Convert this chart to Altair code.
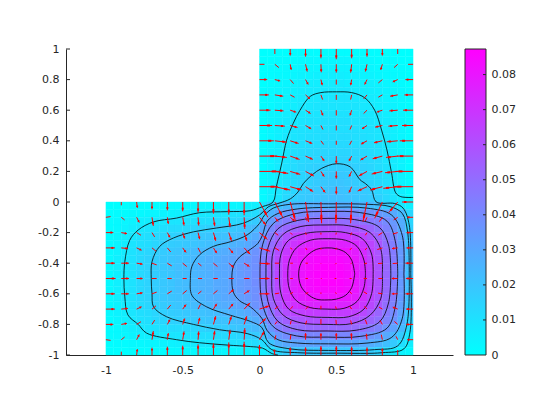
import altair as alt
import pandas as pd

# ---------- field values, in units of 1e-3, cell size 0.05 ----------
TOP_HALF_ROWS = [  # y = .975 ... .025, x = .025 ... .475 (the top block is mirrored about x = 0.5)
 [0,0,0,0,1,1,1,1,1,1],[0,0,1,1,1,2,2,2,3,3],[0,1,1,2,2,3,3,3,4,4],[0,1,2,2,3,4,4,5,5,6],
 [0,1,2,3,4,5,5,6,6,7],[1,2,3,4,5,6,7,7,8,8],[1,2,3,4,6,7,8,8,9,9],[1,2,4,5,6,8,8,9,9,9],
 [1,3,4,6,8,8,9,9,10,10],[1,3,5,7,8,9,10,10,11,11],[1,3,5,7,9,10,10,11,11,11],[1,3,5,8,9,10,11,11,12,12],
 [1,3,6,8,10,11,12,12,13,13],[1,4,6,9,11,12,13,14,14,14],[1,4,7,9,12,13,14,14,15,15],[1,4,7,10,12,14,15,16,17,17],
 [1,4,8,10,13,14,16,17,18,19],[2,4,8,11,13,15,16,18,19,20],[2,5,9,12,14,17,18,19,20,21],[2,6,9,13,16,18,19,20,21,22],
]
LEFT_UPPER_ROWS = [  # y = -.025 ... -.475, x = -.975 ... -.025 (mirrored about y = -0.5)
 [0,0,0,1,1,1,1,1,2,2,2,2,3,3,3,3,3,3,4,5],
 [0,1,1,2,2,3,3,4,4,5,6,7,8,8,9,9,10,10,11,12],
 [1,2,3,4,5,6,8,8,9,9,10,10,11,11,12,13,13,14,16,18],
 [1,2,4,6,8,9,10,11,12,12,13,14,15,16,17,18,19,20,22,24],
 [1,3,5,8,10,11,13,14,15,16,17,18,19,20,21,21,22,23,25,28],
 [2,4,6,9,11,12,14,16,17,18,19,20,21,22,23,25,26,27,29,32],
 [2,4,7,10,12,14,16,18,19,20,21,23,24,25,27,28,29,31,33,37],
 [2,5,8,10,13,15,17,19,20,21,22,24,25,27,28,30,31,33,35,38],
 [2,5,8,10,13,15,17,19,20,22,23,25,26,27,29,30,32,34,36,38],
 [2,5,8,10,13,15,17,19,20,22,23,25,26,27,29,30,32,34,36,39],
]
RIGHT_ROWS = [  # y = -.025 ... -.975, x = .025 ... .975
 [10,17,21,24,26,27,28,28,28,28,28,28,27,26,24,22,18,14,8,5],
 [18,26,31,35,38,40,41,42,42,42,42,41,40,38,37,35,33,29,24,14],
 [25,34,41,45,47,49,50,51,51,51,51,50,49,48,46,44,40,35,28,14],
 [31,41,48,52,55,57,59,60,60,60,60,59,58,56,53,48,43,37,29,16],
 [35,45,53,60,65,68,70,70,70,70,70,69,67,64,59,54,47,41,32,20],
 [39,50,58,65,70,73,76,77,77,77,77,76,74,70,64,58,50,44,34,21],
 [42,53,61,68,75,79,81,82,82,82,82,81,78,73,65,59,52,45,35,22],
 [44,55,63,71,77,80,83,85,85,85,85,83,80,74,66,60,52,45,35,22],
 [45,55,63,71,77,81,84,86,87,87,86,84,80,74,66,60,52,45,35,22],
 [45,55,63,71,77,81,84,86,87,87,86,84,80,74,66,60,52,45,35,22],
 [45,55,63,71,77,81,84,86,87,87,86,84,80,74,66,60,52,45,35,22],
 [44,55,63,71,77,80,83,85,85,85,85,83,80,74,66,60,52,45,35,22],
 [44,54,62,70,75,78,80,81,81,81,81,80,78,72,65,59,51,45,35,22],
 [41,53,60,67,71,73,75,75,75,75,75,75,73,69,63,57,50,43,33,21],
 [37,47,56,61,64,66,67,67,67,67,67,67,66,63,58,53,46,40,31,19],
 [33,43,51,55,58,59,60,60,60,60,60,60,59,57,53,49,43,37,28,16],
 [25,36,44,48,50,51,52,52,52,52,52,52,51,49,46,43,37,32,24,13],
 [20,29,36,39,41,42,42,42,42,42,42,42,41,40,37,34,30,25,18,8],
 [12,20,27,30,31,32,32,32,32,32,32,32,31,30,28,26,22,18,11,6],
 [6,9,14,17,19,20,20,20,20,20,20,20,20,19,17,15,11,8,4,2],
]

# ---------- contours, (x, y) ----------
L1 = [(.62,-.47),(.60,-.38),(.56,-.33),(.50,-.305),(.44,-.30),(.37,-.31),(.31,-.35),(.27,-.40),(.255,-.47),(.27,-.55),(.31,-.60),(.37,-.635),(.44,-.64),(.50,-.635),(.56,-.61),(.60,-.56),(.62,-.47)]
L2 = [(.69,-.47),(.68,-.38),(.635,-.29),(.56,-.25),(.44,-.24),(.33,-.25),(.24,-.30),(.195,-.38),(.184,-.47),(.195,-.57),(.24,-.645),(.33,-.69),(.44,-.70),(.55,-.695),(.635,-.65),(.68,-.56),(.69,-.47)]
L3 = [(.74,-.47),(.73,-.34),(.67,-.24),(.56,-.20),(.44,-.194),(.3,-.205),(.19,-.25),(.14,-.34),(.13,-.47),(.14,-.60),(.19,-.70),(.3,-.745),(.44,-.754),(.58,-.75),(.68,-.70),(.73,-.60),(.74,-.47)]
L4 = [(.80,-.47),(.79,-.31),(.72,-.20),(.58,-.155),(.44,-.15),(.27,-.16),(.155,-.21),(.09,-.32),(.08,-.47),(.09,-.63),(.155,-.74),(.27,-.79),(.44,-.80),(.6,-.795),(.72,-.74),(.79,-.63),(.80,-.47)]
L5 = [(.855,-.47),(.84,-.28),(.78,-.165),(.62,-.115),(.44,-.107),(.25,-.12),(.12,-.175),(.055,-.30),(.042,-.47),(.055,-.65),(.12,-.78),(.25,-.835),(.44,-.843),(.63,-.838),(.78,-.785),(.84,-.66),(.855,-.47)]
L6 = [(.90,-.47),(.885,-.26),(.83,-.125),(.66,-.07),(.44,-.062),(.24,-.075),(.09,-.14),(.02,-.28),(.003,-.47),(.02,-.67),(.09,-.815),(.24,-.875),(.44,-.883),(.66,-.878),(.83,-.825),(.885,-.68),(.90,-.47)]
L7 = [(.94,-.47),(.93,-.22),(.86,-.085),(.7,-.04),(.45,-.035),(.25,-.045),(.12,-.075),(.05,-.125),(.02,-.215),(-.01,-.27),(-.06,-.31),(-.13,-.36),(-.17,-.42),(-.18,-.5),(-.17,-.59),(-.13,-.645),(-.06,-.685),(.015,-.76),(.05,-.84),(.12,-.90),(.25,-.922),(.45,-.927),(.7,-.922),(.86,-.885),(.93,-.76),(.94,-.47)]
L8 = [(.975,-.47),(.965,-.2),(.93,-.075),(.85,-.03),(.7,-.015),(.45,-.012),(.2,-.015),(.09,-.04),(.03,-.09),(0,-.14),(-.08,-.215),(-.19,-.26),(-.30,-.29),(-.39,-.345),(-.44,-.42),(-.45,-.5),(-.44,-.61),(-.345,-.685),(-.19,-.74),(-.06,-.78),(.015,-.82),(.06,-.92),(.2,-.96),(.45,-.97),(.75,-.965),(.9,-.94),(.96,-.8),(.975,-.47)]
L9 = [(.985,-.47),(.975,-.15),(.935,-.04),(.88,-.01),(.76,.0),(.73,.08),(.69,.12),(.655,.145),(.59,.23),(.5,.25),(.405,.22),(.34,.175),(.285,.12),(.25,.065),(.2,.02),(.12,-.01),(.06,-.03),(0,-.085),(-.11,-.14),(-.28,-.17),(-.43,-.195),(-.56,-.235),(-.65,-.29),(-.70,-.39),(-.705,-.5),(-.70,-.60),(-.69,-.685),(-.605,-.75),(-.43,-.80),(-.26,-.835),(-.08,-.86),(.015,-.90),(.08,-.965),(.25,-.985),(.5,-.988),(.8,-.985),(.94,-.96),(.98,-.85),(.985,-.47)]
L10 = [(1,.03),(.92,.035),(.887,.06),(.86,.19),(.83,.34),(.795,.47),(.75,.60),(.687,.68),(.6,.715),(.5,.72),(.4,.715),(.33,.69),(.264,.60),(.22,.515),(.177,.405),(.145,.255),(.11,.10),(.088,.0),(.02,-.03),(-.06,-.057),(-.21,-.063),(-.39,-.07),(-.54,-.105),(-.69,-.13),(-.79,-.183),(-.845,-.25),(-.877,-.39),(-.883,-.5),(-.877,-.62),(-.857,-.738),(-.79,-.80),(-.735,-.857),(-.54,-.90),(-.39,-.92),(-.21,-.935),(-.06,-.945),(.02,-.955),(.08,-.99),(.12,-1)]
CONTOURS = [L1, L2, L3, L4, L5, L6, L7, L8, L9, L10]

# ---------- arrows on the 0.1 grid: (right, down) in 1/460 data units ----------
Q_RIGHT = [  # y = 1 ... -1, x = 0 ... 1
 [(0,0),(0,15),(0,20),(0,23),(0,28),(0,31),(0,28),(0,23),(0,20),(0,15),(0,0)],
 [(15,0),(12,10),(3,17),(5,22),(1,24),(0,25),(-3,25),(-5,22),(-5,17),(-11,10),(-15,0)],
 [(23,0),(16,4),(10,12),(8,15),(4,17),(0,15),(-3,17),(-7,15),(-12,10),(-15,7),(-23,0)],
 [(28,0),(25,4),(13,7),(13,12),(5,14),(0,15),(-3,14),(-10,12),(-12,7),(-23,4),(-26,0)],
 [(33,0),(26,2),(18,6),(15,10),(6,16),(0,16),(-5,16),(-10,10),(-17,6),(-25,2),(-30,0)],
 [(38,0),(30,2),(22,6),(17,10),(6,12),(0,15),(-5,12),(-15,10),(-22,5),(-28,2),(-33,0)],
 [(43,0),(36,4),(25,8),(20,8),(8,11),(0,12),(-6,12),(-18,10),(-25,6),(-33,3),(-40,0)],
 [(53,0),(36,4),(28,10),(22,10),(10,15),(0,23),(-8,15),(-20,12),(-29,8),(-35,4),(-48,0)],
 [(61,0),(40,6),(30,9),(25,14),(10,16),(0,22),(-8,16),(-25,14),(-32,8),(-38,4),(-53,0)],
 [(55,0),(46,10),(35,10),(23,15),(13,18),(0,23),(-8,18),(-28,13),(-37,10),(-43,5),(-58,0)],
 [(25,46),(24,47),(16,58),(9,60),(2,64),(-1,64),(-3,64),(-12,59),(-23,49),(-27,32),(-33,0)],
 [(20,24),(10,13),(13,11),(5,11),(1,9),(-1,9),(-3,10),(-5,11),(-9,13),(-12,8),(-18,0)],
 [(24,21),(10,8),(6,6),(2,7),(0,6),(-1,6),(-3,8),(-5,8),(-12,8),(-14,4),(-20,0)],
 [(32,10),(13,8),(6,4),(4,6),(0,5),(-1,5),(-5,6),(-6,6),(-15,5),(-17,2),(-20,0)],
 [(32,2),(13,0),(8,0),(7,0),(0,1),(-3,3),(-3,1),(-8,1),(-13,1),(-15,1),(-23,0)],
 [(30,0),(10,0),(8,0),(7,0),(2,0),(-5,0),(-6,0),(-10,0),(-12,0),(-18,0),(-21,0)],
 [(30,0),(13,-2),(8,-4),(8,-4),(0,-4),(-2,-4),(-5,-6),(-10,-6),(-13,-2),(-18,0),(-23,0)],
 [(30,-10),(10,-8),(8,-8),(8,-8),(0,-10),(-2,-8),(-5,-8),(-8,-8),(-10,-6),(-15,-6),(-21,0)],
 [(20,-19),(7,-9),(3,-11),(3,-11),(0,-16),(-1,-14),(-3,-12),(-5,-14),(-7,-12),(-10,-9),(-21,0)],
 [(14,-25),(3,-13),(2,-15),(0,-20),(0,-20),(0,-20),(-1,-20),(-2,-18),(-3,-15),(-5,-10),(-18,0)],
 [(0,-30),(-2,-17),(0,-23),(0,-23),(0,-27),(0,-27),(0,-25),(0,-23),(0,-20),(0,-15),(0,0)],
]
Q_LEFT = [  # y = 0 ... -.5, x = -1 ... -.1 (mirrored about y = -0.5)
 [(0,0),(0,10),(2,18),(0,22),(0,25),(0,28),(0,32),(0,35),(0,38),(0,40)],
 [(14,-2),(10,8),(8,16),(4,26),(3,20),(4,25),(2,25),(4,27),(4,30),(2,35)],
 [(22,0),(17,3),(13,8),(8,13),(8,15),(6,18),(5,20),(7,25),(8,25),(8,25)],
 [(27,0),(20,2),(15,7),(12,10),(10,12),(10,14),(7,14),(10,16),(13,16),(18,19)],
 [(27,0),(23,0),(18,3),(14,5),(13,8),(12,10),(10,8),(12,10),(15,13),(16,10)],
 [(29,0),(23,0),(18,0),(14,0),(13,0),(12,0),(12,0),(13,0),(15,0),(16,0)],
]

Y_TICKS = [-1, -.8, -.6, -.4, -.2, 0, .2, .4, .6, .8, 1]
X_TICKS = [-1, -.5, 0, .5, 1]
BAR_TICKS = [0, .01, .02, .03, .04, .05, .06, .07, .08]
VMAX = 0.0875
INK = "#262626"
FONT = "DejaVu Sans"

# ---------- tables ----------
cells = []
def add_cells(rows, x_start, y_start):
    for j, row in enumerate(rows):
        for i, v in enumerate(row):
            cells.append(dict(x0=x_start + i * .05, x1=x_start + (i + 1) * .05,
                              y0=y_start - j * .05, y1=y_start - (j + 1) * .05, v=v / 1000))
add_cells([r + r[::-1] for r in TOP_HALF_ROWS], 0, 1)
add_cells(LEFT_UPPER_ROWS + LEFT_UPPER_ROWS[::-1], -1, 0)
add_cells(RIGHT_ROWS, 0, 0)
heat_df = pd.DataFrame(cells)

lines = []
for k, pts in enumerate(CONTOURS):
    for i, (x, y) in enumerate(pts):
        lines.append(dict(x=x, y=y, level=k, i=i))
line_df = pd.DataFrame(lines)

arrows = []
def add_arrow(x, y, right, down):
    if right == 0 and down == 0:
        return
    u, v = right / 460, -down / 460
    arrows.append(dict(x=x, y=y, xe=x + u, ye=y + v,
                       hx=x + .6 * u, hy=y + .6 * v, hxe=x + .82 * u, hye=y + .82 * v,
                       big=(u * u + v * v) ** .5 > .035))
for j, row in enumerate(Q_RIGHT):
    for i, (r, d) in enumerate(row):
        add_arrow(i / 10, (10 - j) / 10, r, d)
for j, row in enumerate(Q_LEFT):
    for i, (r, d) in enumerate(row):
        add_arrow(-1 + i / 10, -j / 10, r, d)
        if j < 5:
            add_arrow(-1 + i / 10, -1 + j / 10, r, -d)
arrow_df = pd.DataFrame(arrows)

# ---------- main panel ----------
xs = alt.Scale(domain=[-1.26, 1.26], nice=False, zero=False)
ys = alt.Scale(domain=[-1, 1], nice=False, zero=False)
cs = alt.Scale(domain=[0, VMAX], range=["#00ffff", "#ff00ff"], interpolate="rgb", nice=False, zero=False)
label_expr = "replace(format(datum.value, '~g'), '\u2212', '-')"
x_axis = alt.Axis(values=X_TICKS, title=None, grid=False, tickSize=0, labelPadding=9, labelExpr=label_expr,
                  labelOverlap=False, domainColor=INK, labelColor=INK, labelFont=FONT, labelFontSize=11)
y_axis = alt.Axis(values=Y_TICKS, title=None, grid=False, tickSize=0, labelPadding=7, labelExpr=label_expr,
                  labelOverlap=False, domainColor=INK, labelColor=INK, labelFont=FONT, labelFontSize=11)

heat = alt.Chart(heat_df).mark_rect(strokeWidth=0.4).encode(
    x=alt.X("x0:Q", scale=xs, axis=x_axis), x2="x1:Q",
    y=alt.Y("y0:Q", scale=ys, axis=y_axis), y2="y1:Q",
    fill=alt.Fill("v:Q", scale=cs, legend=None),
    stroke=alt.Stroke("v:Q", scale=cs, legend=None),
)
contour = alt.Chart(line_df).mark_line(color="black", strokeWidth=0.8, interpolate="catmull-rom").encode(
    x=alt.X("x:Q", scale=xs, axis=x_axis), y=alt.Y("y:Q", scale=ys, axis=y_axis),
    detail="level:N", order="i:Q",
)
shaft = alt.Chart(arrow_df).mark_rule(color="#ff0000", strokeWidth=1).encode(
    x=alt.X("x:Q", scale=xs, axis=x_axis), x2="xe:Q", y=alt.Y("y:Q", scale=ys, axis=y_axis), y2="ye:Q",
)
head = alt.Chart(arrow_df[arrow_df.big]).mark_rule(color="#ff0000", strokeWidth=2).encode(
    x=alt.X("hx:Q", scale=xs, axis=x_axis), x2="hxe:Q", y=alt.Y("hy:Q", scale=ys, axis=y_axis), y2="hye:Q",
)
y_ticks = alt.Chart(pd.DataFrame({"t": Y_TICKS})).mark_rule(color=INK, strokeWidth=1).encode(
    x=alt.value(0), x2=alt.value(4), y=alt.Y("t:Q", scale=ys, axis=y_axis),
)
main = alt.layer(heat, y_ticks, contour, shaft, head).properties(width=387, height=306)

# ---------- colour bar ----------
bs = alt.Scale(domain=[0, 0.0873], nice=False, zero=False)
bar_axis = alt.Axis(values=BAR_TICKS, title=None, grid=False, tickSize=0, domain=False, orient="right",
                    labelPadding=5, labelExpr="format(datum.value, '~g')", labelOverlap=False,
                    labelColor=INK, labelFont=FONT, labelFontSize=11)
gradient = alt.LinearGradient(gradient="linear", x1=0, x2=0, y1=1, y2=0,
                              stops=[alt.GradientStop(color="#00ffff", offset=0),
                                     alt.GradientStop(color="#ff00ff", offset=1)])
bar = alt.Chart(pd.DataFrame({"a": [0], "b": [0.0873]})).mark_rect(
    color=gradient, stroke=INK, strokeWidth=1).encode(
    x=alt.value(0), x2=alt.value(21),
    y=alt.Y("a:Q", scale=bs, axis=bar_axis), y2="b:Q",
)
bar_ticks = alt.Chart(pd.DataFrame({"t": BAR_TICKS[1:]})).mark_rule(color=INK, strokeWidth=1).encode(
    x=alt.value(18), x2=alt.value(21), y=alt.Y("t:Q", scale=bs, axis=bar_axis),
)
colorbar = alt.layer(bar, bar_ticks).properties(width=21, height=306)

chart = alt.hconcat(main, colorbar, spacing=11).resolve_scale(
    x="independent", y="independent", color="independent", fill="independent", stroke="independent"
).configure_view(strokeWidth=0).properties(
    padding={"left": 29, "top": 35, "right": 0, "bottom": 0}, background="white"
)
chart.save("out.html", embed_options={"renderer": "svg", "actions": False})
